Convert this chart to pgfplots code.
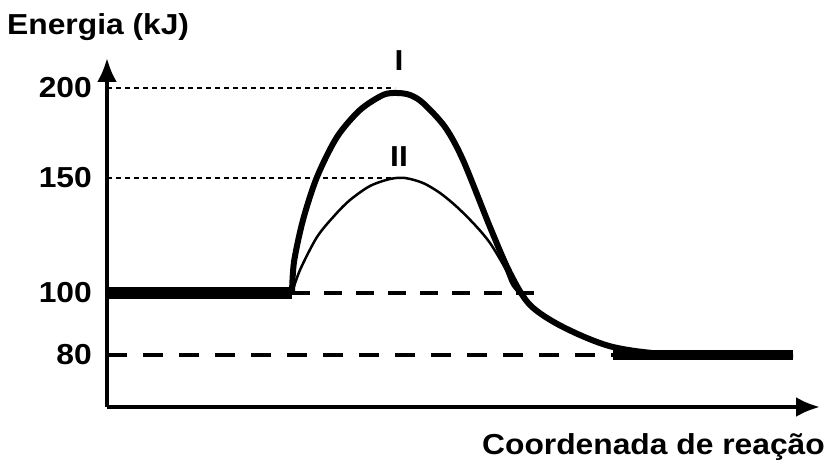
\documentclass[border=0pt]{standalone}
\usepackage{fontspec}
\setmainfont{Liberation Sans}[FakeStretch=1.1]
\usepackage{pgfplots}
\pgfplotsset{compat=1.18}
\usetikzlibrary{arrows.meta}
\newcommand{\lbl}{\fontsize{29}{31}\selectfont\bfseries}
\begin{document}
\begin{tikzpicture}
\useasboundingbox (0,0) rectangle (830bp,466bp);
\begin{axis}[
  at={(107bp,59bp)}, anchor=south west,
  scale only axis, width=713bp, height=349bp,
  xmin=107, xmax=820, ymin=59, ymax=408,
  axis lines=left, clip=false,
  axis line style={line width=4bp, -{Latex[length=24bp,width=20bp]}},
  xtick=\empty,
  ytick={111,173,288,378},
  yticklabels={\textbf{80},\textbf{100},\textbf{150},\textbf{200}},
  major tick length=0pt,
  yticklabel style={font=\lbl, anchor=east, inner sep=0pt, xshift=-15bp},
]
% guide lines
\addplot[line width=1.5bp, dash pattern=on 5bp off 4bp] coordinates {(107,378) (395,378)};
\addplot[line width=1.5bp, dash pattern=on 5bp off 4bp] coordinates {(107,288) (402,288)};
\addplot[line width=3.5bp, dash pattern=on 18bp off 14bp] coordinates {(292,173) (537,173)};
\addplot[line width=3.5bp, dash pattern=on 20bp off 16bp] coordinates {(107,111) (613,111)};
% plateaus
\addplot[line width=12bp] coordinates {(107,173) (292,173)};
\addplot[line width=10bp] coordinates {(613,111) (793,111)};
% curve II (catalysed)
\addplot[line width=2.5bp, smooth] coordinates {
 (292,173) (300,196) (317,229) (335,251) (350,266) (370,280) (390,287) (405,288)
 (423,283) (440,273) (457,259) (475,241) (490,223) (505,198) (513,180) (530,161)};
% curve I
\addplot[line width=6bp, smooth] coordinates {
 (292,173) (294,204) (303,246) (317,289) (337,329) (360,356) (383,371) (397,373)
 (410,371) (423,363) (445,339) (463,306) (490,239) (510,193) (530,161) (563,139)
 (613,119) (680,111) (793,111)};
\node[font=\lbl] at (axis cs:399,405) {I};
\node[font=\lbl] at (axis cs:399,309) {II};
\node[font=\lbl, anchor=west, inner sep=0pt] at (axis cs:7,439) {Energia (kJ)};
\node[font=\lbl, anchor=east, inner sep=0pt] at (axis cs:825,19) {Coordenada de reação};
\end{axis}
\end{tikzpicture}
\end{document}
